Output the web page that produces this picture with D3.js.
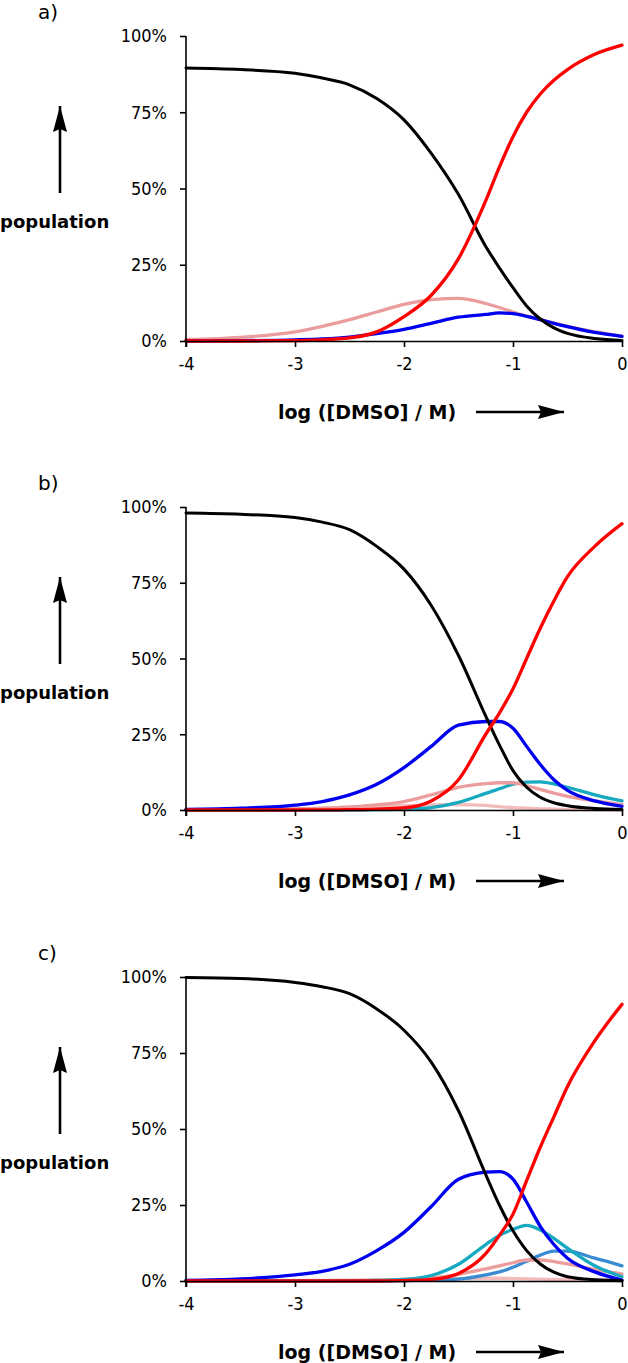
<!DOCTYPE html>
<html>
<head>
<meta charset="utf-8">
<script src="https://cdn.jsdelivr.net/npm/d3@7"></script>
<style>
  html, body { margin: 0; padding: 0; background: #fff; }
  svg { display: block; }
  .tick text { font-family: "DejaVu Sans Condensed", "DejaVu Sans", sans-serif; font-stretch: condensed; }
</style>
</head>
<body>
<svg id="chart" width="628" height="1363"></svg>
<script>
// ---- data ----
const logDMSO = [-4, -3.5, -3, -2.75, -2.5, -2.25, -2, -1.75, -1.5, -1.25, -1.125, -1, -0.875, -0.75, -0.625, -0.5, -0.25, 0];
const xTickValues = [-4, -3, -2, -1, 0];
const xTickLabels = ["-4", "-3", "-2", "-1", "0"];
const yTickValues = [0, 25, 50, 75, 100];
const yTickLabels = ["0%", "25%", "50%", "75%", "100%"];
const panelLabels = ["a)", "b)", "c)"];
const yAxisTitle = "population";
const xAxisTitle = "log ([DMSO] / M)";

// panel a
const blackA = [89.5, 89, 87.8, 86.2, 84, 79.5, 72.5, 61.5, 48, 31, 24, 17.5, 11.5, 7.2, 4.3, 2.5, 0.8, 0.2];
const redA   = [0, 0, 0.1, 0.4, 1, 3, 8, 15, 27, 46, 57, 67, 75, 81, 85.5, 89, 94, 97];
const pinkA  = [0.5, 1.2, 3, 4.8, 7, 9.5, 12, 13.6, 14, 12.3, 11, 9.5, 8.2, 7, 5.9, 4.8, 3, 1.6];
const blueA  = [0, 0.1, 0.4, 0.7, 1.3, 2.4, 3.8, 5.8, 7.8, 8.7, 9.2, 9, 8.1, 7, 5.8, 4.7, 2.8, 1.5];

// panel b
const blackB = [98, 97.6, 96.5, 95, 92.5, 87, 79.5, 67.5, 51, 31, 21.5, 13, 7.5, 4.2, 2.4, 1.4, 0.5, 0.2];
const redB   = [0, 0, 0, 0.05, 0.1, 0.3, 0.7, 3, 10, 25, 32, 40, 50, 60, 69, 77, 87, 94.5];
const blueB  = [0.2, 0.6, 1.6, 2.8, 5, 8.5, 14, 21, 28, 29.2, 29.2, 27, 21, 15, 10, 6.5, 3, 1.2];
const cyanB  = [0, 0, 0, 0, 0, 0.1, 0.3, 0.8, 2.5, 5.5, 7, 8.5, 9.2, 9.3, 8.6, 7.5, 5, 3];
const pinkB  = [0.1, 0.2, 0.4, 0.6, 1, 1.7, 2.8, 5, 7.5, 8.7, 9, 9, 8, 6.8, 5.6, 4.5, 3, 1.8];
const pink2B = [0.1, 0.2, 0.3, 0.4, 0.6, 1, 1.4, 1.7, 1.8, 1.5, 1.1, 0.8, 0.6, 0.4, 0.3, 0.2, 0.1, 0.05];

// panel c
const blackC = [99.8, 99.5, 98.2, 96.8, 94.5, 89.5, 82.5, 72, 56, 35, 25, 16.5, 10, 5.6, 2.9, 1.4, 0.4, 0.1];
const redC   = [0, 0, 0, 0, 0, 0, 0.1, 0.5, 2.5, 9, 15, 22, 33, 44, 54, 64, 79, 91];
const blueC  = [0.2, 0.7, 2, 3.2, 5.5, 10, 16, 24.5, 33.5, 35.8, 36, 33.5, 26, 18, 12, 7.5, 3, 0.3];
const cyanC  = [0, 0, 0, 0, 0.1, 0.2, 0.5, 1.8, 5.5, 12, 15, 17, 18.3, 16.8, 14, 10.8, 5, 1.4];
const steelC = [0, 0, 0, 0, 0, 0, 0.1, 0.3, 0.6, 2, 3, 4.5, 6.5, 8.5, 9.8, 9.8, 7.5, 5];
const pinkC  = [0, 0, 0, 0, 0.1, 0.2, 0.5, 1, 2.2, 4, 5, 6, 6.9, 6.9, 6.4, 5.6, 3.8, 2.3];
const pink2C = [0.1, 0.1, 0.2, 0.2, 0.3, 0.4, 0.5, 0.6, 0.8, 0.9, 0.9, 0.8, 0.7, 0.6, 0.5, 0.5, 0.4, 0.3];

// ---- styles ----
const colors = {
  black: "#000000", red: "#ff0000", blue: "#0000f0", pink: "#eb9c9c",
  pink2: "#f3bcbc", cyan: "#17a9bf", steel: "#3a8cd2"
};

const panels = [
  { label: panelLabels[0], top: 36, bottom: 341,
    series: [["pink", pinkA], ["blue", blueA], ["black", blackA], ["red", redA]] },
  { label: panelLabels[1], top: 507, bottom: 810,
    series: [["pink2", pink2B], ["cyan", cyanB], ["pink", pinkB], ["blue", blueB], ["black", blackB], ["red", redB]] },
  { label: panelLabels[2], top: 977, bottom: 1281,
    series: [["pink2", pink2C], ["steel", steelC], ["pink", pinkC], ["cyan", cyanC], ["blue", blueC], ["black", blackC], ["red", redC]] }
];

const svg = d3.select("#chart");
const left = 186, right = 622;

const defs = svg.append("defs");
defs.append("marker").attr("id", "ah").attr("viewBox", "0 0 26 14")
  .attr("refX", 26).attr("refY", 7).attr("markerWidth", 26).attr("markerHeight", 14)
  .attr("markerUnits", "userSpaceOnUse").attr("orient", "auto")
  .append("path").attr("d", "M0,0 L26,7 L0,14 L3,7 Z").attr("fill", "#000");

panels.forEach(p => {
  const x = d3.scaleLinear().domain([-4, 0]).range([left, right]);
  const y = d3.scaleLinear().domain([0, 100]).range([p.bottom, p.top]);
  const g = svg.append("g");

  // series
  const line = d3.line().x((d, i) => x(logDMSO[i])).y(d => y(d)).curve(d3.curveMonotoneX);
  p.series.forEach(([key, vals]) => {
    g.append("path").datum(vals).attr("d", line)
      .attr("fill", "none").attr("stroke", colors[key])
      .attr("stroke-width", key === "black" ? 3 : 3.3)
      .attr("stroke-linejoin", "round").attr("stroke-linecap", "round");
  });

  // axes
  const yAxis = d3.axisLeft(y).tickValues(yTickValues)
    .tickFormat((d, i) => yTickLabels[i]).tickSize(6).tickPadding(13).tickSizeOuter(0);
  const gy = g.append("g").attr("transform", `translate(${left},0)`).call(yAxis);
  gy.select(".domain").attr("d", `M0,${p.bottom + 6}V${p.top}`);

  const xAxis = d3.axisBottom(x).tickValues(xTickValues).tickFormat((d, i) => xTickLabels[i])
    .tickSize(6).tickPadding(10).tickSizeOuter(0);
  const gx = g.append("g").attr("transform", `translate(0,${p.bottom})`).call(xAxis);

  [gx, gy].forEach(ax => {
    ax.selectAll(".domain, .tick line").attr("stroke", "#000").attr("stroke-width", 1.6);
    ax.selectAll(".tick text").attr("font-size", 18).attr("fill", "#000");
  });

  // panel label
  svg.append("text").attr("x", 38).attr("y", p.top - 17)
    .attr("font-family", "DejaVu Sans, sans-serif").attr("font-size", 20)
    .text(p.label);

  // population arrow + title
  svg.append("line").attr("x1", 60).attr("x2", 60)
    .attr("y1", p.top + 157).attr("y2", p.top + 70)
    .attr("stroke", "#000").attr("stroke-width", 2.6).attr("marker-end", "url(#ah)");
  svg.append("text").attr("x", 0).attr("y", p.top + 192)
    .attr("font-family", "DejaVu Sans, sans-serif")
    .attr("font-weight", "bold").attr("font-size", 18)
    .text(yAxisTitle);

  // x title + arrow
  const ty = p.bottom + 71;
  svg.append("text").attr("x", 278).attr("y", ty + 7)
    .attr("font-family", "DejaVu Sans, sans-serif")
    .attr("font-weight", "bold").attr("font-size", 19)
    .text(xAxisTitle);
  svg.append("line").attr("x1", 476).attr("x2", 564)
    .attr("y1", ty).attr("y2", ty)
    .attr("stroke", "#000").attr("stroke-width", 2.6).attr("marker-end", "url(#ah)");
});
</script>
</body>
</html>
